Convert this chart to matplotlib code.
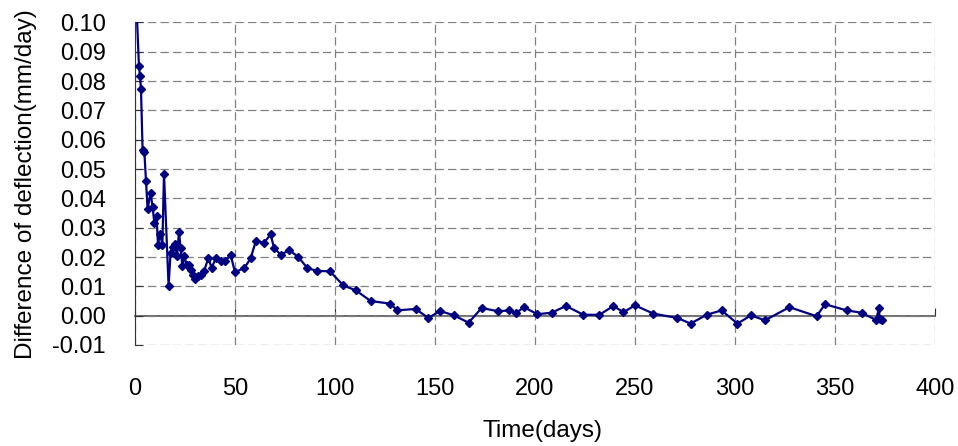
import matplotlib
matplotlib.use("Agg")
import matplotlib.pyplot as plt

plt.rcParams['font.family'] = ['Liberation Sans', 'DejaVu Sans']
plt.rcParams['lines.scale_dashes'] = False

# values
days = [1, 2, 2.5, 3, 3.8, 4.7, 5.5, 6.3, 7.8, 8.8, 9.7, 10.8, 11.5, 12.5, 13.7,
        14.5, 16.8, 17.8, 18.8, 20, 21, 22, 22.8, 23.7, 24.7, 25.8, 27.2, 28, 28.8,
        30, 31.7, 32.8, 34.5, 36.7, 38.3, 40.5, 42.8, 45, 47.8, 50, 54.7, 57.8,
        60.5, 64.5, 67.8, 69.5, 72.8, 77.2, 81.7, 86.2, 90.8, 97.5, 104.2, 110.5,
        117.8, 127.5, 131.2, 140.3, 146.7, 152.5, 159.5, 166.8, 173.3, 181.7,
        187.2, 190.5, 194.5, 201.2, 208.3, 215.5, 224.2, 232.2, 239.2, 244.2,
        250, 259.2, 271.2, 277.8, 285.8, 293.3, 301.2, 308, 315, 327.2, 340.8,
        345, 355.8, 363.3, 370.6, 372, 372.3, 373.5]
diff = [0.1015, 0.085, 0.0818, 0.0773, 0.0566, 0.0557, 0.046, 0.0364, 0.042, 0.037,
        0.0316, 0.0339, 0.0242, 0.028, 0.0242, 0.0484, 0.0102, 0.0214, 0.0234,
        0.0245, 0.0202, 0.0286, 0.023, 0.0168, 0.0202, 0.0174, 0.0172, 0.0157,
        0.014, 0.0125, 0.0134, 0.014, 0.0151, 0.0197, 0.0163, 0.0197, 0.0185,
        0.0185, 0.0208, 0.0148, 0.0163, 0.0195, 0.0256, 0.0248, 0.0277, 0.0232,
        0.0208, 0.0223, 0.020, 0.0162, 0.0153, 0.0151, 0.0103, 0.0086, 0.005,
        0.0041, 0.0018, 0.0023, -0.0008, 0.0016, 0.0001, -0.0024, 0.0026, 0.0015,
        0.0018, 0.0009, 0.0029, 0.0005, 0.001, 0.0033, 0.0003, 0.0003, 0.0033,
        0.0012, 0.0035, 0.0007, -0.0008, -0.0027, 0.0003, 0.0018, -0.0027, 0.0001,
        -0.0016, 0.0029, -0.0002, 0.0039, 0.0018, 0.001, -0.0015, 0.0027, -0.0012,
        -0.0016]

xticks = [0, 50, 100, 150, 200, 250, 300, 350, 400]
yticks = [-0.01, 0.00, 0.01, 0.02, 0.03, 0.04, 0.05, 0.06, 0.07, 0.08, 0.09, 0.10]

fig = plt.figure(figsize=(9.58, 4.46), dpi=100)
ax = fig.add_axes([0.1409, 0.2265, 0.8351, 0.7231])

ax.plot(days, diff, color='#000080', lw=1.6, marker='D', markersize=4,
        zorder=3)

ax.set_xlim(0, 400)
ax.set_ylim(-0.01, 0.10)
ax.set_xticks(xticks)
ax.set_yticks(yticks)
ax.set_yticklabels([f"{v:.2f}" for v in yticks])

ax.grid(True, color='#808080', lw=0.9, linestyle=(0, (6, 3)))
for s in ['top', 'right', 'bottom']:
    ax.spines[s].set_visible(False)
ax.spines['left'].set_color('#333333')

ax.tick_params(axis='x', length=0, pad=24, labelsize=17)
ax.tick_params(axis='y', direction='in', length=6, pad=21, labelsize=17,
               color='#333333')

# zero line with the x ticks on it
loc = (0 - ax.get_ylim()[0]) / (ax.get_ylim()[1] - ax.get_ylim()[0])
sec = ax.secondary_xaxis(loc)
sec.set_xticks(xticks)
sec.tick_params(direction='in', length=6, labelbottom=False, color='#333333')
sec.spines['bottom'].set_color('#555555')
sec.spines['bottom'].set_linewidth(1.2)

ax.set_xlabel("Time(days)", fontsize=17.5)
ax.xaxis.set_label_coords(0.51, -0.232)
ax.set_ylabel("Difference of deflection(mm/day)", fontsize=17.5)
ax.yaxis.set_label_coords(-0.1225, 0.5)

fig.savefig("out.png", dpi=100)
